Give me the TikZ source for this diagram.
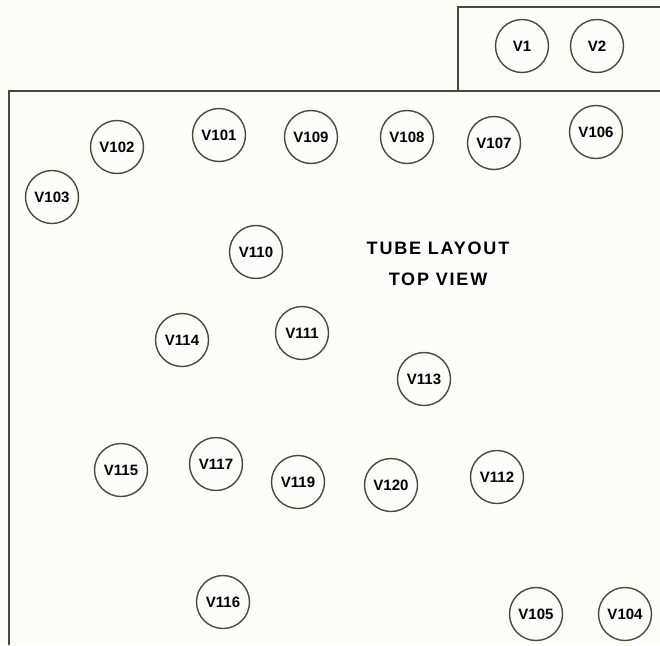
\documentclass[tikz,border=0pt]{standalone}
\usepackage{fontspec}
\setmainfont{Liberation Sans}
\usepackage{tikz}
\definecolor{ink}{HTML}{4A4A38}
\definecolor{paper}{HTML}{FCFDF8}

\begin{document}
\begin{tikzpicture}[x=1pt,y=-1pt,
  tube/.style={draw=ink,line width=1.4pt,circle,minimum size=53pt,inner sep=0pt,font=\bfseries\fontsize{15}{15}\selectfont,text=black},
  edge/.style={draw=ink,line width=1.3pt},
  title/.style={font=\bfseries\addfontfeature{LetterSpace=10}\fontsize{18}{18}\selectfont,text=black}]
  \fill[paper] (0,0) rectangle (660,645);
  \useasboundingbox (0,0) rectangle (660,645);
  % chassis outline
  \coordinate (mainbl) at (9,645);
  \coordinate (maintl) at (9,91);
  \coordinate (maintr) at (660,91);
  \coordinate (boxbl) at (458,91);
  \coordinate (boxtl) at (458,7);
  \coordinate (boxtr) at (660,7);
  \draw[edge] (mainbl) -- (maintl) -- (maintr);
  \draw[edge] (boxbl) -- (boxtl) -- (boxtr);
  % tubes
  \node[tube] (v1) at (522,46) {V1};
  \node[tube] (v2) at (597,46) {V2};
  \node[tube] (v102) at (117,147) {V102};
  \node[tube] (v103) at (52,197) {V103};
  \node[tube] (v101) at (219,135) {V101};
  \node[tube] (v109) at (311,137) {V109};
  \node[tube] (v108) at (407,137) {V108};
  \node[tube] (v107) at (494,143) {V107};
  \node[tube] (v106) at (596,132) {V106};
  \node[tube] (v110) at (256,252) {V110};
  \node[tube] (v114) at (182,340) {V114};
  \node[tube] (v111) at (302,333) {V111};
  \node[tube] (v113) at (424,379) {V113};
  \node[tube] (v115) at (121,470) {V115};
  \node[tube] (v117) at (216,464) {V117};
  \node[tube] (v119) at (298,482) {V119};
  \node[tube] (v120) at (391,485) {V120};
  \node[tube] (v112) at (497,477) {V112};
  \node[tube] (v116) at (223,602) {V116};
  \node[tube] (v105) at (536,614) {V105};
  \node[tube] (v104) at (625,614) {V104};
  % caption
  \node[title] (cap1) at (438,248) {TUBE LAYOUT};
  \node[title] (cap2) at (438,279) {TOP VIEW};
\end{tikzpicture}
\end{document}
